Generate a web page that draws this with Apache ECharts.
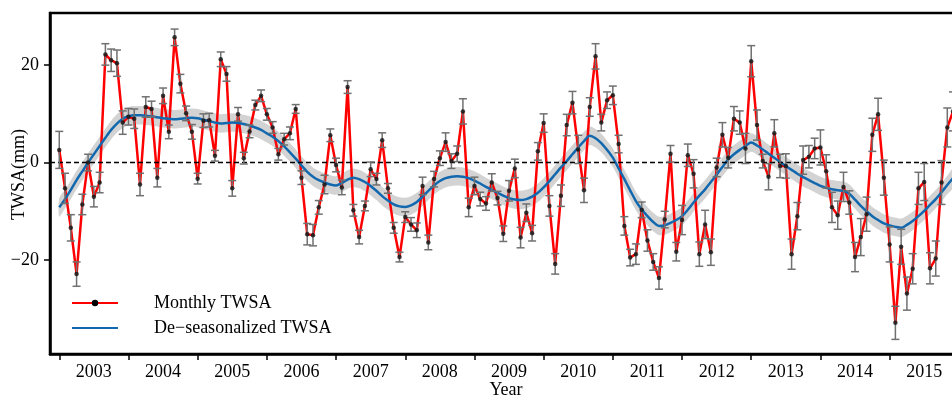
<!DOCTYPE html>
<html>
<head>
<meta charset="utf-8">
<script src="https://cdn.jsdelivr.net/npm/echarts@6/dist/echarts.min.js"></script>
<style>
  html, body { margin: 0; padding: 0; background: #fff; }
  #chart { width: 952px; height: 399px; }
</style>
</head>
<body>
<div id="chart"></div>
<script>
// Year labels (one per calendar year) and year-boundary ticks
const years = [2003, 2004, 2005, 2006, 2007, 2008, 2009, 2010, 2011, 2012, 2013, 2014, 2015];
const yearTicks = [2003, 2004, 2005, 2006, 2007, 2008, 2009, 2010, 2011, 2012, 2013, 2014, 2015, 2016];
const yTicks = [-20, 0, 20];

// Monthly TWSA (mm), Jan 2003 - Dec 2015
const monthlyTWSA = [
  2.6, -5.3, -13.4, -22.9, -8.6, 0.0, -7.0, -4.1, 22.2, 21.0, 20.4, 8.2,
  9.4, 9.0, -4.5, 11.4, 11.0, -3.1, 13.7, 6.3, 25.7, 16.2, 10.1, 6.3,
  -3.3, 8.6, 8.7, 1.4, 21.2, 18.2, -5.3, 9.9, 0.9, 6.4, 11.8, 13.7,
  9.9, 7.2, 1.7, 4.8, 6.0, 11.0, -3.1, -14.7, -14.9, -9.2, -4.5, 5.6,
  -0.5, -5.1, 15.5, -9.8, -15.3, -8.9, -1.4, -3.4, 4.6, -5.3, -13.4, -19.4,
  -11.2, -12.7, -13.9, -4.8, -16.4, -3.4, 0.9, 4.2, 0.3, 1.8, 10.5, -9.2,
  -4.8, -7.5, -8.4, -4.1, -7.3, -14.6, -5.8, -1.2, -15.4, -10.3, -14.5, 2.3,
  8.1, -8.9, -20.8, -6.8, 7.7, 12.3, 2.7, -5.7, 11.4, 21.8, 8.2, 12.8,
  13.8, 3.8, -13.0, -19.5, -18.8, -9.7, -16.0, -20.4, -23.7, -11.7, 1.8, -18.3,
  -11.8, 1.5, -2.3, -18.8, -12.7, -18.4, -1.0, 5.7, 1.0, 9.0, 8.2, 2.9,
  20.8, 7.7, 0.3, -2.9, 6.0, -0.7, -0.7, -18.8, -11.0, 0.5, 1.2, 2.9,
  3.1, -1.8, -9.2, -10.8, -5.0, -8.2, -19.4, -15.3, -10.6, 5.7, 9.9, -3.1,
  -16.8, -32.9, -17.3, -26.9, -21.8, -5.3, -4.0, -21.7, -19.7, -4.1, 7.2, 10.5
];

// One-sigma uncertainty of each monthly value (mm)
const monthlyErr = [
  3.8, 3.1, 2.7, 2.5, 2.1, 1.7, 2.1, 2.1, 2.2, 2.3, 2.7, 2.4,
  1.7, 2.0, 2.3, 2.1, 1.6, 1.9, 1.6, 1.4, 1.7, 1.9, 1.5, 1.5,
  1.1, 1.4, 1.4, 1.1, 1.5, 1.5, 1.6, 1.4, 1.2, 1.3, 1.0, 1.2,
  1.2, 1.2, 1.2, 1.2, 1.3, 0.9, 1.4, 2.2, 2.2, 1.4, 1.9, 1.3,
  1.4, 1.5, 1.3, 1.2, 1.4, 1.0, 1.5, 1.2, 1.5, 1.0, 1.1, 1.0,
  1.1, 1.4, 1.5, 1.8, 1.5, 1.6, 1.5, 1.9, 1.5, 1.6, 2.6, 1.9,
  1.8, 1.4, 1.4, 1.8, 1.4, 1.6, 2.1, 1.9, 2.1, 1.8, 1.6, 1.8,
  1.9, 2.1, 2.1, 2.2, 2.2, 2.3, 2.9, 2.5, 1.9, 2.6, 1.7, 1.7,
  1.9, 1.8, 1.9, 1.7, 2.1, 1.6, 2.2, 1.7, 2.3, 1.7, 1.7, 1.9,
  3.0, 2.3, 2.9, 2.5, 2.9, 2.7, 1.9, 2.5, 2.1, 2.5, 2.4, 3.1,
  3.2, 3.1, 1.4, 2.7, 2.8, 2.4, 2.5, 3.1, 2.8, 2.9, 2.3, 2.1,
  3.6, 3.4, 3.1, 2.9, 3.0, 2.4, 3.0, 3.8, 3.5, 3.4, 3.3, 3.6,
  3.6, 3.4, 3.6, 3.4, 3.1, 3.3, 3.8, 3.2, 3.6, 4.5, 4.0, 4.0
];

// De-seasonalized TWSA (mm), same months
const trendTWSA = [
  -9.2, -7.5, -5.6, -3.6, -1.8, 0.0, 1.7, 3.4, 5.1, 6.7, 8.0, 9.0,
  9.5, 9.7, 9.7, 9.6, 9.5, 9.3, 9.1, 9.0, 8.9, 9.0, 9.1, 9.2,
  9.1, 8.8, 8.5, 8.2, 8.0, 8.1, 8.2, 8.1, 7.9, 7.6, 7.2, 6.7,
  6.0, 5.3, 4.4, 3.3, 2.1, 0.8, -0.6, -1.9, -2.9, -3.6, -4.1, -4.5,
  -4.7, -4.2, -3.5, -3.1, -3.4, -4.0, -4.8, -5.8, -6.9, -7.8, -8.6, -9.0,
  -9.1, -8.8, -8.1, -7.0, -5.8, -4.7, -3.8, -3.2, -2.9, -2.8, -2.9, -3.2,
  -3.7, -4.3, -5.0, -5.6, -6.2, -6.8, -7.3, -7.6, -7.7, -7.5, -7.0, -6.2,
  -5.1, -3.8, -2.4, -1.0, 0.3, 1.7, 3.1, 4.4, 5.5, 5.0, 4.0, 2.6,
  1.0, -1.2, -3.4, -5.7, -7.9, -9.6, -11.0, -12.2, -13.0, -12.9, -12.4, -11.8,
  -11.0, -9.7, -8.2, -6.8, -5.5, -4.0, -2.5, -0.9, 0.6, 1.7, 2.6, 3.4,
  4.1, 3.5, 2.7, 1.8, 1.0, 0.1, -0.7, -1.5, -2.3, -3.0, -3.6, -4.2,
  -4.8, -5.2, -5.5, -5.7, -5.8, -6.4, -7.6, -8.9, -10.0, -11.0, -11.8, -12.5,
  -12.9, -13.2, -13.4, -12.8, -12.0, -11.0, -9.9, -8.7, -7.5, -6.1, -4.6, -3.2
];

// Half-width of the uncertainty band around the de-seasonalized series (mm)
const trendSigma = 1.9;

const FONT = '"Liberation Serif", "Times New Roman", serif';
const monthTime = i => 2003 + i / 12;

const monthlyPts = monthlyTWSA.map((v, i) => [monthTime(i), v]);
const errPts = monthlyTWSA.map((v, i) => [monthTime(i), v - monthlyErr[i], v + monthlyErr[i]]);
const trendPts = trendTWSA.map((v, i) => [monthTime(i), v]);
const bandPts = trendTWSA.map((v, i) => [monthTime(i), v - trendSigma, v + trendSigma]);

const chart = echarts.init(document.getElementById('chart'), null, { renderer: 'canvas' });

const option = {
  animation: false,
  backgroundColor: '#fff',
  textStyle: { fontFamily: FONT },
  grid: {
    left: 50, top: 13, width: 912, height: 341,
    outerBoundsMode: 'none', containLabel: false,
    show: true, borderColor: '#000', borderWidth: 2.5, backgroundColor: 'transparent'
  },
  legend: {
    orient: 'vertical',
    left: 71, top: 294,
    padding: 0,
    itemGap: 7,
    itemWidth: 46, itemHeight: 8,
    textStyle: { fontFamily: FONT, fontSize: 18, color: '#000', padding: [0, 0, 0, 31] },
    data: [
      { name: 'Monthly TWSA' },
      { name: 'De\u2212seasonalized TWSA', itemStyle: { color: 'rgba(0,0,0,0)', borderWidth: 0 } }
    ]
  },
  xAxis: {
    type: 'value',
    min: 2002.866, max: 2016.046,
    name: 'Year', nameLocation: 'middle', nameGap: 27, nameMoveOverlap: false,
    nameTextStyle: { fontFamily: FONT, fontSize: 18, color: '#000' },
    axisLine: { show: true, onZero: false, lineStyle: { color: '#000', width: 2.5 } },
    axisTick: { show: true, inside: false, length: 6, customValues: yearTicks, lineStyle: { color: '#000', width: 1.5 } },
    axisLabel: {
      customValues: years.map(y => y + 0.5),
      formatter: v => String(Math.floor(v)),
      fontFamily: FONT, fontSize: 18, color: '#000', margin: 9
    },
    splitLine: { show: false }
  },
  yAxis: {
    type: 'value',
    min: -39.3, max: 30.7,
    name: 'TWSA(mm)', nameLocation: 'middle', nameGap: 22, nameMoveOverlap: false,
    nameTextStyle: { fontFamily: FONT, fontSize: 18, color: '#000', padding: [0, 0, 0, 18] },
    axisLine: { show: true, onZero: false, lineStyle: { color: '#000', width: 2.5 } },
    axisTick: { show: true, inside: false, length: 6, customValues: yTicks, lineStyle: { color: '#000', width: 1.5 } },
    axisLabel: {
      customValues: yTicks,
      formatter: v => String(v).replace('-', '\u2212'),
      fontFamily: FONT, fontSize: 18, color: '#000', margin: 11
    },
    splitLine: { show: false }
  },
  series: [
    {
      // uncertainty band of the de-seasonalized series
      name: 'band', type: 'custom', z: 1, silent: true,
      data: bandPts,
      encode: { x: 0, y: [1, 2] },
      renderItem: (params, api) => {
        if (params.dataIndex !== 0) return null;
        const upper = bandPts.map(p => api.coord([p[0], p[2]]));
        const lower = bandPts.map(p => api.coord([p[0], p[1]])).reverse();
        return {
          type: 'polygon',
          shape: { points: upper.concat(lower), smooth: 0.3 },
          style: { fill: 'rgba(200,200,200,0.8)', stroke: null }
        };
      }
    },
    {
      // zero reference line
      name: 'zero', type: 'line', z: 2, silent: true, data: [],
      markLine: {
        silent: true, symbol: 'none', label: { show: false },
        lineStyle: { color: '#000', type: [5, 3], width: 1.3 },
        data: [{ yAxis: 0 }]
      }
    },
    {
      name: 'Monthly TWSA', type: 'line', z: 3,
      data: monthlyPts,
      showSymbol: false, symbol: 'circle', symbolSize: 5,
      lineStyle: { color: '#ff0000', width: 2.5 },
      itemStyle: { color: '#000' }
    },
    {
      name: 'De\u2212seasonalized TWSA', type: 'line', z: 4,
      data: trendPts,
      smooth: 0.3, showSymbol: false, symbol: 'none',
      lineStyle: { color: '#1268ae', width: 2.5 },
      itemStyle: { color: 'rgba(0,0,0,0)' }
    },
    {
      // error bars of the monthly values
      name: 'errors', type: 'custom', z: 5, silent: true,
      data: errPts,
      encode: { x: 0, y: [1, 2] },
      renderItem: (params, api) => {
        const x = api.value(0);
        const lo = api.coord([x, api.value(1)]);
        const hi = api.coord([x, api.value(2)]);
        const cap = 4;
        const st = { stroke: '#707070', lineWidth: 1.5 };
        return {
          type: 'group',
          children: [
            { type: 'line', shape: { x1: lo[0], y1: lo[1], x2: hi[0], y2: hi[1] }, style: st },
            { type: 'line', shape: { x1: lo[0] - cap, y1: lo[1], x2: lo[0] + cap, y2: lo[1] }, style: st },
            { type: 'line', shape: { x1: hi[0] - cap, y1: hi[1], x2: hi[0] + cap, y2: hi[1] }, style: st }
          ]
        };
      }
    },
    {
      // monthly markers
      name: 'markers', type: 'scatter', z: 6, silent: true,
      data: monthlyPts,
      symbol: 'circle', symbolSize: 4.5,
      itemStyle: { color: '#111' }
    }
  ]
};

chart.setOption(option);
</script>
</body>
</html>
